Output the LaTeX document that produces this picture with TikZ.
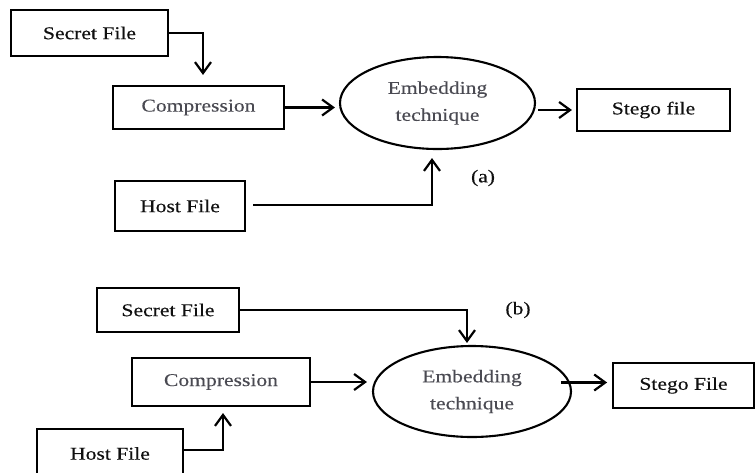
\documentclass[tikz,border=0pt]{standalone}
\usepackage{fontspec}
\setmainfont{Liberation Serif}[FakeStretch=1.2,FakeBold=0.3]
\usetikzlibrary{arrows.meta,shapes.geometric,calc}
\definecolor{graytext}{HTML}{4A4A52}
\definecolor{darktext}{HTML}{101010}
\begin{document}
\begin{tikzpicture}[x=1pt,y=-1pt,
  box/.style={draw=black,line width=2.1pt,rectangle,inner sep=0pt,text=darktext,
    font=\fontsize{18}{27}\selectfont},
  ell/.style={draw=black,line width=2.1pt,ellipse,inner sep=0pt,text=graytext,align=center,
    font=\fontsize{18}{27}\selectfont},
  lbl/.style={inner sep=0pt,text=darktext,font=\fontsize{18}{22}\selectfont},
  arr/.style={line width=2.2pt,-{Straight Barb[length=11pt,width=16pt,line width=2.2pt]}},
  ln/.style={line width=2.2pt}]
\useasboundingbox (0,0) rectangle (756,472);
\fill[white] (0,0) rectangle (756,472);
% ---- (a)
\node[box,minimum width=157pt,minimum height=46pt] (sf1) at (89.5,33) {Secret File};
\node[box,minimum width=171pt,minimum height=43pt,text=graytext] (comp1) at (198.5,107.5) {Compression};
\node[ell,minimum width=195pt,minimum height=92pt] (emb1) at (437.5,103) {Embedding\\technique};
\node[box,minimum width=153pt,minimum height=42pt] (stego1) at (653.5,110) {Stego file};
\node[box,minimum width=130pt,minimum height=50pt] (host1) at (180,206) {Host File};
\node[lbl] (la) at (483,178) {(a)};
\draw[arr,shorten >=10pt] (sf1.east) -| ([xshift=4.5pt]comp1.north);
\draw[arr,shorten >=4pt] (comp1.east) -- (comp1.east -| emb1.west);
\draw[arr,shorten >=4pt,shorten <=2pt] (stego1.west -| emb1.east) -- (stego1.west);
\draw[arr,shorten <=7pt,shorten >=8pt] ([yshift=1pt]host1.east) -| ([xshift=-5.5pt]emb1.south);
% ---- (b)
\node[box,line width=1.8pt,minimum width=142pt,minimum height=44pt] (sf2) at (168,310) {Secret File};
\node[box,minimum width=178pt,minimum height=48pt,text=graytext] (comp2) at (221,382) {Compression};
\node[ell,minimum width=198pt,minimum height=91pt] (emb2) at (472,391.5) {Embedding\\technique};
\node[box,line width=1.8pt,minimum width=141pt,minimum height=45pt] (stego2) at (683.5,385.5) {Stego File};
\node[box,line width=1.8pt,minimum width=146pt,minimum height=49pt] (host2) at (110,453.5) {Host File};
\node[lbl] (lb) at (518,310) {(b)};
\draw[arr,shorten >=2pt] (sf2.east) -| ([xshift=-5pt]emb2.north);
\draw[arr,shorten >=5pt] (comp2.east) -- (comp2.east -| emb2.west);
\draw[arr,shorten >=5pt] ([xshift=-11pt,yshift=3pt]stego2.west -| emb2.east) -- ([yshift=3pt]stego2.west);
\draw[arr,shorten >=6pt] ([yshift=3.5pt]host2.east) -| ([xshift=2pt]comp2.south);
\end{tikzpicture}
\end{document}
